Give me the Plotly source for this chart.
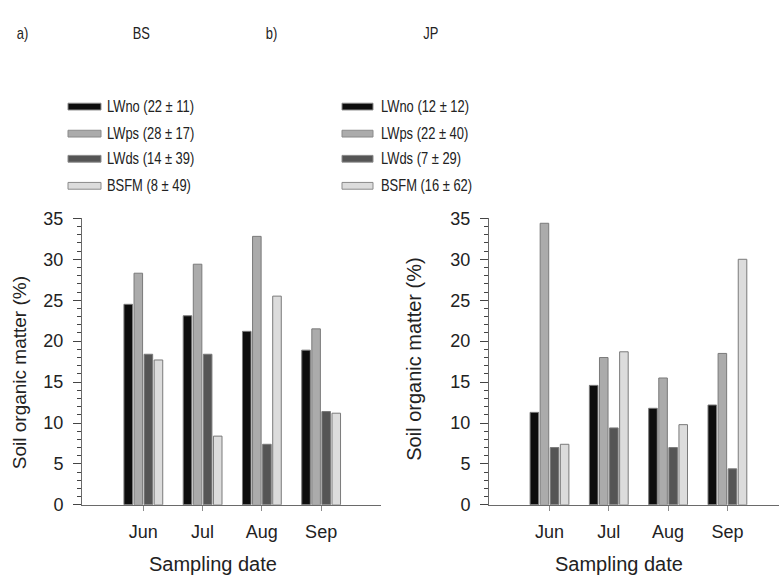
import json
import plotly.graph_objects as go

months = ["Jun", "Jul", "Aug", "Sep"]
series = ["LWno", "LWps", "LWds", "BSFM"]
colors = ["#0d0d0d", "#ababab", "#555555", "#dcdcdc"]

bs_values = {
    "LWno": [24.5, 23.1, 21.2, 18.9],
    "LWps": [28.3, 29.4, 32.8, 21.5],
    "LWds": [18.4, 18.4, 7.4, 11.4],
    "BSFM": [17.7, 8.4, 25.5, 11.2],
}
jp_values = {
    "LWno": [11.3, 14.6, 11.8, 12.2],
    "LWps": [34.4, 18.0, 15.5, 18.5],
    "LWds": [7.0, 9.4, 7.0, 4.4],
    "BSFM": [7.4, 18.7, 9.8, 30.0],
}
bs_stats = ["22 ± 11", "28 ± 17", "14 ± 39", "8 ± 49"]
jp_stats = ["12 ± 12", "22 ± 40", "7 ± 29", "16 ± 62"]
panel_labels = ["a)", "b)"]
panel_titles = ["BS", "JP"]

W, H = 779, 588
SANS = "Liberation Sans, Arial, sans-serif"

fig = go.Figure()
for s, c in zip(series, colors):
    fig.add_trace(go.Bar(x=months, y=bs_values[s], name=s, marker=dict(color=c, line=dict(color="#7a7a7a", width=1)),
                         xaxis="x", yaxis="y", showlegend=False))
for s, c in zip(series, colors):
    fig.add_trace(go.Bar(x=months, y=jp_values[s], name=s, marker=dict(color=c, line=dict(color="#7a7a7a", width=1)),
                         xaxis="x2", yaxis="y2", showlegend=False))

def px(x):
    return x / W

def py(y):
    return 1 - y / H

ydom = [py(512.3), py(215.7)]
axis_common = dict(showgrid=False, zeroline=False, showline=True, linecolor="#6a6a6a", linewidth=1)
xaxis_common = dict(axis_common, ticks="outside", ticklen=5, tickcolor="#8a8a8a",
                    tickfont=dict(family=SANS, size=18, color="#222"), ticklabelstandoff=6)
yaxis_common = dict(axis_common, range=[0, 35], dtick=5, ticks="outside", ticklen=8, tickcolor="#444",
                    tickfont=dict(family=SANS, size=18, color="#222"), ticklabelstandoff=6,
                    minor=dict(dtick=1, ticks="outside", ticklen=4, tickcolor="#444"))

annotations = []
shapes = []
narrow_texts = []

def add_text(x, y, text, size, xanchor="center", textangle=0, narrow=False, color="#222"):
    annotations.append(dict(x=px(x), y=py(y), xref="paper", yref="paper", text=text, showarrow=False,
                            xanchor=xanchor, yanchor="middle", textangle=textangle,
                            align="left" if xanchor == "left" else "center",
                            font=dict(family=SANS, size=size, color=color)))
    if narrow:
        narrow_texts.append(text)

add_text(22, 24, panel_labels[0], 17, narrow=True)
add_text(141, 24, panel_titles[0], 17, narrow=True)
add_text(271, 24, panel_labels[1], 17, narrow=True)
add_text(431, 24, panel_titles[1], 17, narrow=True)

add_text(19, 376, "Soil organic matter (%)", 19, textangle=-90)
add_text(414, 361, "Soil organic matter (%)", 20, textangle=-90)
add_text(213, 573, "Sampling date", 20)
add_text(619, 573, "Sampling date", 20)

rows = [100, 128, 154, 182]
for (sx0, sx1, tx, stats) in [(68, 101, 108, bs_stats), (342, 373, 382, jp_stats)]:
    for r, s, c, st in zip(rows, series, colors, stats):
        shapes.append(dict(type="rect", xref="paper", yref="paper", x0=px(sx0), x1=px(sx1),
                           y0=py(r + 3.5), y1=py(r - 3.5), fillcolor=c, line=dict(color="#8a8a8a", width=1)))
        add_text(tx - 3, r, f"{s} ({st})", 17, xanchor="left", narrow=True)

fig.update_layout(
    width=W, height=H, margin=dict(l=0, r=0, t=0, b=0),
    paper_bgcolor="white", plot_bgcolor="white",
    barmode="group", bargap=0.32, bargroupgap=0.15,
    xaxis=dict(xaxis_common, domain=[px(82), px(381)], range=[-1.035, 4.01], anchor="y"),
    yaxis=dict(yaxis_common, domain=ydom, anchor="x"),
    xaxis2=dict(xaxis_common, domain=[px(489), 1.0], range=[-1.02, 3.87], anchor="y2"),
    yaxis2=dict(yaxis_common, domain=ydom, anchor="x2"),
    annotations=annotations, shapes=shapes,
)

# Page setup + the reference's narrow (condensed) face for header/legend text.
post = """
document.body.style.margin = '0';
document.body.style.overflow = 'hidden';
var narrow = %s;
var gd = document.getElementById('{plot_id}');
function squeeze() {
  var els = gd.querySelectorAll('text.annotation-text');
  els.forEach(function(t) {
    var raw = t.getAttribute('data-unformatted');
    if (narrow.indexOf(raw) >= 0 && !t.getAttribute('textLength')) {
      var L = t.getComputedTextLength();
      t.setAttribute('lengthAdjust', 'spacingAndGlyphs');
      t.setAttribute('textLength', (L * 0.76).toFixed(1));
    }
  });
}
squeeze();
gd.on('plotly_afterplot', squeeze);
""" % json.dumps(narrow_texts)

fig.write_html("out.html", post_script=post, config={"displayModeBar": False})
